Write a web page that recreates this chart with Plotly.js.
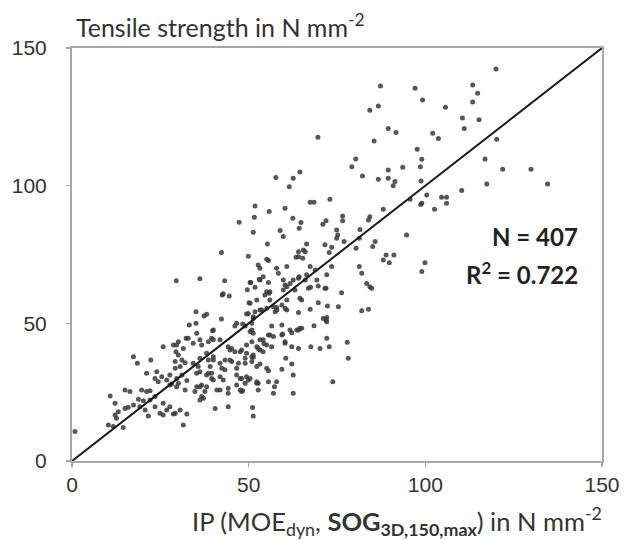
<!DOCTYPE html>
<html>
<head>
<meta charset="utf-8">
<script src="https://cdn.plot.ly/plotly-3.0.1.min.js"></script>
<style>html,body{margin:0;padding:0;background:#fff;}#chart{width:630px;height:540px;}</style>
</head>
<body>
<div id="chart"></div>
<script>
// IP (MOE_dyn, SOG) values [N mm^-2]
const ipValues = [
87.3,97.1,99.2,84.3,86.7,89.5,91.7,85.5,69.6,102.1,103.7,97.7,99.0,98.6,93.6,89.5,80.3,79.2,64.5,57.7,62.6,82.2,86.7,89.5,
120.0,113.4,114.8,113.4,105.7,110.5,115.2,111.0,120.2,116.9,121.9,129.9,
117.4,134.6,110.3,100.4,104.6,106.0,106.0,99.0,102.6,99.9,99.0,
51.8,51.6,47.3,51.3,42.3,49.9,29.5,36.2,43.2,50.6,49.6,42.5,44.5,50.1,35.1,37.4,38.1,42.3,49.9,51.3,53.0,
61.5,91.4,90.9,98.8,98.7,95.7,88.1,94.7,67.4,68.5,73.0,55.8,60.3,62.5,64.8,64.3,58.9,59.8,71.0,71.9,76.6,76.6,74.9,75.2,74.9,
84.3,83.9,81.5,81.3,85.8,85.1,77.0,66.4,65.5,64.1,63.4,65.3,71.6,73.5,72.8,80.4,55.3,55.1,55.6,52.7,53.2,57.9,60.8,67.4,68.8,73.5,
88.9,91.1,88.1,89.8,81.3,82.0,66.4,64.3,62.6,59.8,60.3,58.4,54.1,55.6,55.1,54.6,55.8,59.8,67.5,71.9,83.4,84.3,84.8,76.3,64.5,69.7,72.3,75.4,
57.0,58.0,59.4,60.8,64.1,82.0,83.9,72.1,
33.2,35.1,46.1,48.3,50.9,35.3,39.8,32.3,29.6,25.8,34.3,36.7,38.6,40.0,50.9,52.3,49.4,45.2,47.6,49.4,51.3,29.4,30.1,17.4,18.5,22.3,
32.0,34.3,36.2,38.6,40.0,41.9,43.3,44.7,46.6,49.0,50.9,52.3,29.2,30.6,35.7,36.2,24.0,21.1,38.1,39.5,23.5,24.4,25.4,26.8,28.2,30.1,32.5,
35.3,36.7,34.8,37.6,37.2,36.2,40.0,41.0,44.2,46.6,49.0,50.4,48.0,52.3,15.0,16.4,19.7,21.1,22.1,10.8,12.2,18.8,20.2,22.1,23.5,
15.0,15.9,17.4,19.2,20.7,23.5,25.8,26.8,27.7,29.2,30.6,32.5,12.2,12.6,13.1,21.6,24.9,25.8,28.7,10.3,11.7,14.5,31.5,40.5,44.2,51.1,51.3,0.85,
51.8,53.7,57.5,56.5,64.5,63.6,68.5,71.9,50.4,51.3,55.6,57.0,59.6,62.2,53.2,54.3,56.5,60.3,62.2,64.1,67.6,70.2,72.8,72.1,77.9,78.2,
52.7,53.2,54.1,50.9,51.3,53.2,55.6,59.4,62.2,62.6,60.5,48.0,49.4,49.9,52.7,55.6,57.3,48.3,62.6,73.8,
66.0,64.1,50.4,53.2,61.7,60.8,64.1,66.0,69.3,72.1,51.8,42.8,56.0,63.1,66.9,69.7,71.6,50.4,52.3,56.0,60.8,65.0,
49.4,53.2,55.1,57.9,60.3,67.4,72.1,71.1,46.6,49.0,51.3,50.9,59.4,61.7,64.1,65.0,
28.7,30.1,31.5,32.9,36.2,38.1,40.0,39.5,41.9,44.7,44.2,46.1,48.0,55.1,54.1,56.0,59.4,60.3,
29.2,31.1,40.0,39.1,42.4,43.3,45.2,47.1,49.0,55.1,27.7,29.6,31.1,35.3,38.6,39.5,41.9,42.8,46.6,47.6,52.3,57.9,
27.7,29.6,32.0,36.2,36.7,38.1,41.9,44.2,47.6,52.7,57.0
];
// Tensile strength values [N mm^-2]
const tensileValues = [
136.2,135.4,131.1,127.4,128.9,120.8,119.3,116.2,117.6,119.0,117.1,113.2,109.6,106.9,106.7,105.7,109.7,106.9,105.0,103.0,102.7,103.5,102.3,102.7,
142.4,136.6,133.6,130.4,128.5,124.6,123.9,120.8,116.9,109.7,106.0,106.0,
100.6,100.6,98.2,96.6,95.8,95.8,93.6,93.6,91.4,72.0,68.8,
92.6,88.5,86.7,83.1,75.7,74.4,65.5,66.2,65.5,64.8,62.2,60.3,59.9,57.5,54.2,52.7,53.3,51.6,53.6,52.4,66.0,
99.6,101.5,100.0,101.7,93.2,95.1,91.4,82.1,94.0,94.0,95.1,90.6,91.8,88.2,86.6,84.5,83.7,81.5,86.0,87.3,89.0,87.3,83.9,82.1,80.9,
88.7,87.5,84.1,80.9,79.7,77.9,79.7,78.8,76.6,76.0,74.0,73.6,78.5,77.6,75.7,77.3,78.8,73.3,72.8,71.2,70.0,70.0,70.6,70.6,69.4,70.6,
74.8,74.8,73.0,72.0,70.6,68.2,67.6,66.9,65.7,65.7,63.9,68.2,66.9,64.8,61.5,60.3,60.9,62.1,63.1,62.7,64.5,63.3,62.7,61.1,59.1,57.5,56.3,56.0,
56.0,54.8,56.7,54.8,53.9,54.6,55.1,52.1,
49.4,50.0,49.0,49.8,50.0,46.4,47.3,44.6,42.1,41.5,42.8,42.1,43.3,44.0,43.3,41.5,42.1,40.9,39.7,39.1,38.5,39.7,38.5,37.9,35.5,36.7,
35.7,35.5,37.3,36.7,37.9,35.5,33.1,36.7,33.7,35.5,36.1,34.3,33.7,34.3,34.3,32.4,32.4,31.9,31.2,31.9,30.0,28.8,30.6,29.4,28.0,28.2,29.2,
27.0,27.6,25.2,25.2,22.8,22.2,29.4,25.8,26.4,27.6,28.2,30.0,25.2,28.2,25.8,25.2,25.8,25.2,25.5,23.6,21.0,22.4,21.9,22.2,23.4,
19.1,19.5,20.3,19.7,18.5,19.7,21.0,18.5,19.7,17.3,18.5,17.1,16.7,15.5,17.9,16.3,17.3,16.7,17.1,13.1,12.5,12.2,13.1,19.1,19.7,19.4,16.3,10.7,
54.2,54.8,54.2,49.0,48.2,47.6,49.1,51.2,47.0,46.4,45.8,45.2,46.1,46.6,44.0,42.7,41.5,43.3,41.5,40.9,41.5,40.9,41.5,44.6,43.1,37.3,
40.9,40.3,39.7,37.9,37.7,35.2,32.8,33.3,35.2,31.2,37.3,30.0,30.6,29.4,28.2,28.8,27.0,25.5,24.6,28.8,
76.0,74.2,64.8,65.7,64.5,63.3,66.4,65.7,65.7,67.6,63.1,60.7,61.5,62.1,62.7,63.6,62.7,57.3,58.5,58.5,58.5,58.5,
53.4,54.8,55.5,55.8,55.5,55.1,50.6,51.8,50.0,49.0,51.8,47.6,49.4,47.6,47.6,48.2,
42.1,43.3,40.9,44.6,44.0,39.1,47.6,44.6,44.0,40.3,41.5,39.7,40.3,42.1,44.0,45.8,45.8,42.8,
36.1,36.7,36.7,34.3,33.7,36.7,36.1,35.5,37.3,33.7,31.2,30.0,31.2,31.9,31.9,30.0,30.6,29.4,31.2,30.0,28.8,28.8,
27.6,27.0,25.8,27.0,23.4,27.0,25.8,24.6,25.8,25.8,24.6
];
// 1:1 reference line
const lineX = [0, 150];
const lineY = [0, 150];
const tickVals = [0, 50, 100, 150];
const tickText = ['0', '50', '100', '150'];
const nText = 'N = 407';
const r2Text = 'R<sup>2</sup> = 0.722';

const axisCommon = {
  range: [0, 150],
  tickvals: tickVals,
  ticktext: tickText,
  showgrid: false,
  zeroline: false,
  showline: true,
  mirror: true,
  linecolor: '#a8a8a8',
  linewidth: 2,
  ticks: 'outside',
  ticklen: 4,
  tickwidth: 1.5,
  tickcolor: '#a8a8a8',
  tickfont: {family: 'Liberation Sans, Arial', size: 21, color: '#333'},
  fixedrange: true
};

const traces = [
  {
    x: ipValues, y: tensileValues, type: 'scatter', mode: 'markers',
    marker: {size: 5, color: '#3a3a3a', opacity: 0.85},
    hoverinfo: 'skip', showlegend: false
  },
  {
    x: lineX, y: lineY, type: 'scatter', mode: 'lines',
    line: {color: '#1a1a1a', width: 2},
    hoverinfo: 'skip', showlegend: false
  }
];

const layout = {
  width: 630, height: 540,
  margin: {l: 72, r: 28, t: 48, b: 79},
  paper_bgcolor: '#fff', plot_bgcolor: '#fff',
  xaxis: Object.assign({}, axisCommon),
  yaxis: Object.assign({}, axisCommon, {ticklabelstandoff: 15}),
  showlegend: false,
  annotations: [
    {xref: 'paper', yref: 'paper', x: 0.004, y: 1.055, xanchor: 'left', yanchor: 'middle',
     text: 'Tensile strength in N mm<sup>-2</sup>', showarrow: false,
     font: {family: 'Lato, Open Sans', size: 25, color: '#333'}},
    {xref: 'paper', yref: 'paper', x: 1.003, y: -0.145, xanchor: 'right', yanchor: 'middle',
     text: 'IP (MOE<sub>dyn</sub>, <b>SOG<sub>3D,150,max</sub></b>) in N mm<sup>-2</sup>', showarrow: false,
     font: {family: 'Lato, Open Sans', size: 25.5, color: '#333'}},
    {xref: 'paper', yref: 'paper', x: 0.958, y: 0.543, xanchor: 'right', yanchor: 'middle',
     text: '<b>' + nText + '</b>', showarrow: false,
     font: {family: 'Lato, Open Sans', size: 24, color: '#222'}},
    {xref: 'paper', yref: 'paper', x: 0.958, y: 0.455, xanchor: 'right', yanchor: 'middle',
     text: '<b>' + r2Text + '</b>', showarrow: false,
     font: {family: 'Lato, Open Sans', size: 24, color: '#222'}}
  ]
};

Plotly.newPlot('chart', traces, layout, {staticPlot: true, displayModeBar: false});
</script>
</body>
</html>
